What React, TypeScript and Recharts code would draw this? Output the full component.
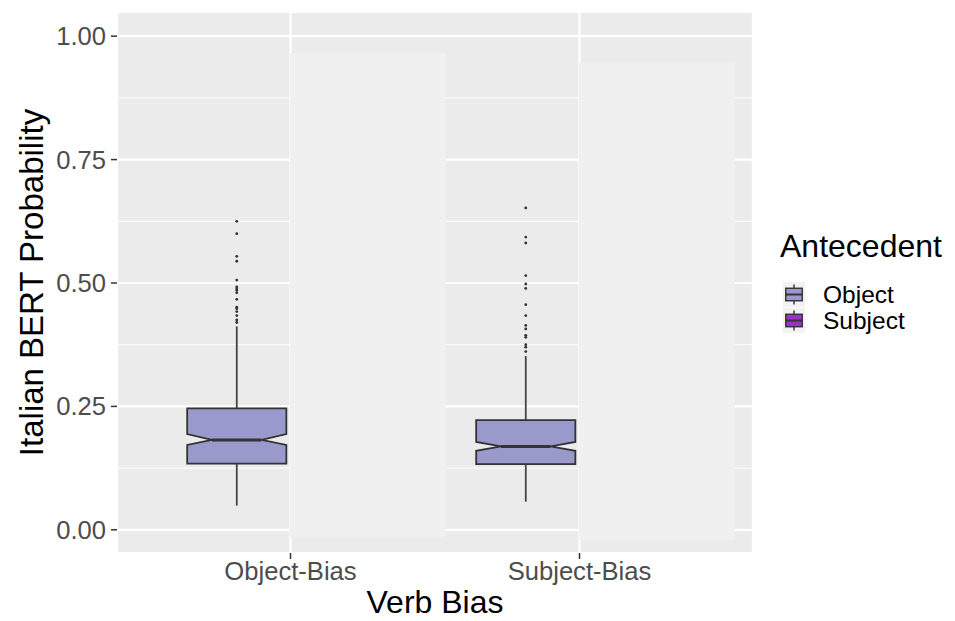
import { ComposedChart, Bar, XAxis, YAxis, CartesianGrid, Label } from "recharts";

const FONT = "'Liberation Sans', Arial, Helvetica, sans-serif";
const OBJECT_FILL = "#9999CC";
const SUBJECT_FILL = "#9932CC";
const LINE = "#333333";

const categories = ["Object-Bias", "Subject-Bias"];
const antecedents = ["Object", "Subject"];

// Object antecedent boxplots
const whiskerLow = [0.049, 0.057];
const lowerHinge = [0.134, 0.133];
const medians = [0.182, 0.169];
const upperHinge = [0.246, 0.222];
const whiskerHigh = [0.412, 0.352];
const notchLow = [0.172, 0.16];
const notchHigh = [0.194, 0.178];
const outliers = [
  [0.42, 0.425, 0.434, 0.442, 0.448, 0.451, 0.467, 0.48, 0.485, 0.488, 0.492, 0.506, 0.544, 0.554, 0.6, 0.625],
  [0.361, 0.37, 0.375, 0.39, 0.394, 0.407, 0.414, 0.434, 0.456, 0.489, 0.498, 0.515, 0.581, 0.593, 0.652],
];

// pale blocks where the Subject boxes would sit
const subjectLow = [-0.016, -0.02];
const subjectHigh = [0.966, 0.947];

const yTicks = [0, 0.25, 0.5, 0.75, 1];
const yMinor = [0.125, 0.375, 0.625, 0.875];

const data = categories.map((cat, i) => ({
  cat,
  box: [whiskerLow[i], whiskerHigh[i]],
  pale: [subjectLow[i], subjectHigh[i]],
  q1: lowerHinge[i],
  med: medians[i],
  q3: upperHinge[i],
  nLo: notchLow[i],
  nHi: notchHigh[i],
  out: outliers[i],
}));

function BoxShape(props: any) {
  const { x, y, width, height, payload } = props;
  const [lo, hi] = payload.box;
  const top = Math.min(y, y + height);
  const k = Math.abs(height) / (hi - lo);
  const py = (v: number) => top + (hi - v) * k;
  const band = width * 2;
  const cx = x + width - band * 0.187;
  const half = band * 0.171;
  const l = cx - half;
  const r = cx + half;
  const nIn = half * 0.5;
  const pts = [
    [l, py(payload.q3)],
    [r, py(payload.q3)],
    [r, py(payload.nHi)],
    [r - nIn, py(payload.med)],
    [r, py(payload.nLo)],
    [r, py(payload.q1)],
    [l, py(payload.q1)],
    [l, py(payload.nLo)],
    [l + nIn, py(payload.med)],
    [l, py(payload.nHi)],
  ]
    .map((p) => p.join(","))
    .join(" ");
  return (
    <g>
      <line x1={cx} x2={cx} y1={py(payload.q3)} y2={py(hi)} stroke="#444" strokeWidth={1.8} />
      <line x1={cx} x2={cx} y1={py(payload.q1)} y2={py(lo)} stroke="#444" strokeWidth={1.8} />
      <polygon points={pts} fill={OBJECT_FILL} stroke={LINE} strokeWidth={1.8} strokeLinejoin="miter" />
      <line x1={l + nIn} x2={r - nIn} y1={py(payload.med)} y2={py(payload.med)} stroke={LINE} strokeWidth={3} />
      {payload.out.map((v: number, j: number) => (
        <circle key={j} cx={cx} cy={py(v)} r={1.4} fill={LINE} />
      ))}
    </g>
  );
}

function PaleShape(props: any) {
  const { x, y, width, height } = props;
  return (
    <rect
      x={x - 1}
      y={Math.min(y, y + height)}
      width={width * 2 * 0.537}
      height={Math.abs(height)}
      fill="#F0F0F0"
    />
  );
}

function LegendKey({ x, y, fill }: { x: number; y: number; fill: string }) {
  const w = 22;
  const h = 25;
  return (
    <g>
      <rect x={x} y={y} width={w} height={h} fill="#F2F2F2" />
      <line x1={x + w / 2} x2={x + w / 2} y1={y + h * 0.1} y2={y + h * 0.9} stroke={LINE} strokeWidth={1.4} />
      <rect x={x + w * 0.125} y={y + h * 0.25} width={w * 0.75} height={h * 0.5} fill={fill} stroke={LINE} strokeWidth={1.4} />
      <line x1={x + w * 0.125} x2={x + w * 0.875} y1={y + h / 2} y2={y + h / 2} stroke={LINE} strokeWidth={2} />
    </g>
  );
}

export default function App() {
  const tickStyle = { fontSize: 25.6, fill: "#4D4D4D", fontFamily: FONT };
  return (
    <div style={{ position: "absolute", left: 0, top: 0, width: 955, height: 621, background: "#fff" }}>
      <ComposedChart
        width={955}
        height={621}
        data={data}
        margin={{ top: 12, right: 202, bottom: 0, left: 0 }}
        barCategoryGap={0}
        barGap={0}
      >
        <CartesianGrid fill="#EBEBEB" stroke="#FFFFFF" strokeWidth={2.2} />
        <CartesianGrid horizontalValues={yMinor} vertical={false} stroke="#FFFFFF" strokeWidth={1} />
        <XAxis
          dataKey="cat"
          type="category"
          height={68}
          padding={{ left: 29, right: 29 }}
          axisLine={false}
          tickSize={6}
          tickMargin={3}
          tickLine={{ stroke: LINE, strokeWidth: 1.5 }}
          tick={tickStyle}
        >
          <Label value="Verb Bias" position="insideBottom" offset={8} fontSize={32} fill="#000" fontFamily={FONT} />
        </XAxis>
        <YAxis
          type="number"
          width={117}
          domain={[-0.047, 1.049]}
          allowDataOverflow
          ticks={yTicks}
          tickFormatter={(v: number) => v.toFixed(2)}
          axisLine={false}
          tickSize={6}
          tickMargin={5}
          tickLine={{ stroke: LINE, strokeWidth: 1.5 }}
          tick={tickStyle}
        >
          <Label
            value="Italian BERT Probability"
            angle={-90}
            position="insideLeft"
            offset={31}
            fontSize={33}
            fill="#000"
            fontFamily={FONT}
            style={{ textAnchor: "middle" }}
          />
        </YAxis>
        <Bar dataKey="box" isAnimationActive={false} shape={<BoxShape />} />
        <Bar dataKey="pale" isAnimationActive={false} shape={<PaleShape />} />
      </ComposedChart>
      <svg
        width={185}
        height={120}
        style={{ position: "absolute", left: 770, top: 225, fontFamily: FONT }}
      >
        <text x={10} y={32} fontSize={32} fill="#000">
          Antecedent
        </text>
        {antecedents.map((name, i) => (
          <g key={name}>
            <LegendKey x={13} y={57 + i * 26} fill={i === 0 ? OBJECT_FILL : SUBJECT_FILL} />
            <text x={53} y={57 + i * 26 + 12.5} dy="0.355em" fontSize={24.5} fill="#000">
              {name}
            </text>
          </g>
        ))}
      </svg>
    </div>
  );
}
